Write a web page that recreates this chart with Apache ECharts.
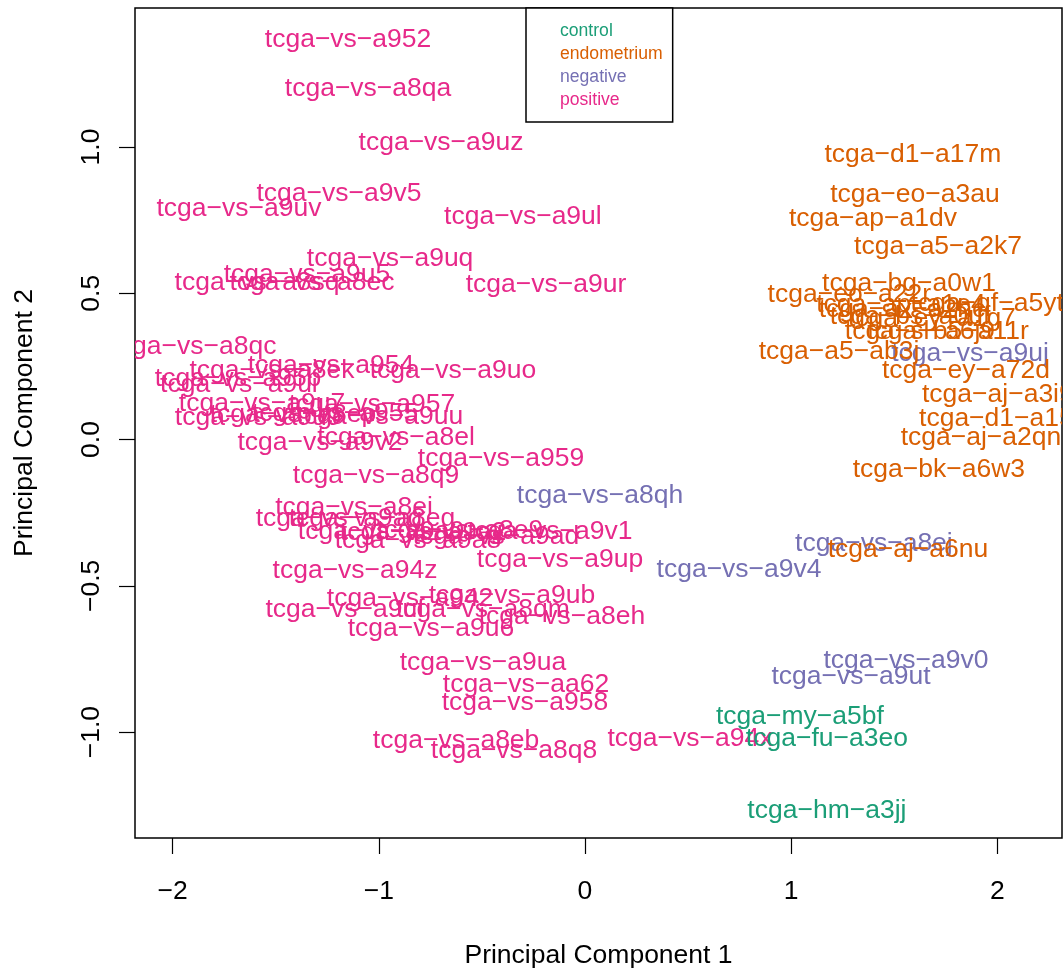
<!DOCTYPE html>
<html><head><meta charset="utf-8">
<script src="https://cdn.jsdelivr.net/npm/echarts@6/dist/echarts.min.js"></script>
<style>html,body{margin:0;padding:0;background:#fff}#c{width:1064px;height:969px}</style>
</head><body><div id="c"></div>
<script>
// ---- data (PC1, PC2 scores per sample) ----
const groupNames = ['control', 'endometrium', 'negative', 'positive'];

const positiveNames = ['tcga-vs-a952','tcga-vs-a8qa','tcga-vs-a9uz','tcga-vs-a9v5','tcga-vs-a9uv','tcga-vs-a9ul','tcga-vs-a9uq','tcga-vs-a9ur','tcga-vs-a9u5','tcga-vs-a8sq','tcga-vs-a8ec','tcga-vs-a8qc','tcga-vs-a9uo','tcga-vs-a954','tcga-vs-a8ek','tcga-vs-a95b','tcga-vs-a9ui','tcga-vs-a9u7','tcga-vs-a957','tcga-vs-a9uu','tcga-vs-a9u9','tcga-vs-a8ep','tcga-vs-a955','tcga-vs-a8el','tcga-vs-a9v2','tcga-vs-a959','tcga-vs-a8q9','tcga-vs-a8ei','tcga-vs-a9ag','tcga-vs-a8eg','tcga-vs-a9a0','tcga-vs-a9a8','tcga-vs-a9a2','tcga-vs-a8e9','tcga-vs-a9ad','tcga-vs-a9v1','tcga-vs-a9up','tcga-vs-a94z','tcga-vs-a9ub','tcga-vs-a942','tcga-vs-a9uf','tcga-vs-a8qm','tcga-vs-a8eh','tcga-vs-a9u6','tcga-vs-a9ua','tcga-vs-aa62','tcga-vs-a958','tcga-vs-a8eb','tcga-vs-a8q8','tcga-vs-a94x'];
const positivePC1 = [-1.149,-1.052,-0.698,-1.193,-1.678,-0.301,-0.945,-0.189,-1.348,-1.590,-1.324,-1.896,-0.640,-1.232,-1.518,-1.682,-1.678,-1.566,-1.033,-0.994,-1.585,-1.416,-1.212,-0.916,-1.285,-0.407,-1.013,-1.120,-1.193,-1.033,-0.989,-0.810,-0.785,-0.606,-0.432,-0.170,-0.121,-1.115,-0.354,-0.848,-1.164,-0.495,-0.112,-0.747,-0.495,-0.286,-0.291,-0.625,-0.344,0.509];
const positivePC2 = [1.366,1.198,1.014,0.839,0.788,0.761,0.617,0.528,0.562,0.535,0.535,0.316,0.237,0.251,0.234,0.207,0.186,0.121,0.118,0.077,0.073,0.084,0.090,0.008,-0.012,-0.067,-0.125,-0.234,-0.272,-0.272,-0.316,-0.347,-0.320,-0.310,-0.333,-0.316,-0.412,-0.450,-0.535,-0.545,-0.580,-0.580,-0.604,-0.648,-0.764,-0.839,-0.898,-1.028,-1.062,-1.024];

const negativeNames = ['tcga-vs-a8qh','tcga-vs-a9v4','tcga-vs-a8ej','tcga-vs-a9uj','tcga-vs-a9v0','tcga-vs-a9ut'];
const negativePC1 = [0.073,0.747,1.401,1.867,1.556,1.290];
const negativePC2 = [-0.193,-0.446,-0.357,0.292,-0.757,-0.812];

const endometriumNames = ['tcga-d1-a17m','tcga-eo-a3au','tcga-ap-a1dv','tcga-a5-a2k7','tcga-bg-a0w1','tcga-eo-a22r','tcga-qf-a5yt','tcga-ap-a1e4','tcga-ax-a2hc','tcga-bs-a0uf','tcga-ey-a1g7','tcga-sl-a6j9','tcga-b5-a11r','tcga-a5-ab3j','tcga-ey-a72d','tcga-aj-a3i9','tcga-d1-a15z','tcga-aj-a2qn','tcga-bk-a6w3','tcga-aj-a6nu'];
const endometriumPC1 = [1.590,1.600,1.396,1.712,1.571,1.282,1.950,1.532,1.537,1.576,1.682,1.624,1.760,1.232,1.847,2.002,2.027,1.920,1.716,1.566];
const endometriumPC2 = [0.972,0.836,0.754,0.658,0.531,0.494,0.463,0.460,0.443,0.419,0.412,0.367,0.367,0.299,0.237,0.152,0.070,0.008,-0.104,-0.375];

const controlNames = ['tcga-my-a5bf','tcga-fu-a3eo','tcga-hm-a3jj'];
const controlPC1 = [1.042,1.173,1.173];
const controlPC2 = [-0.949,-1.024,-1.267];

const xTicks = [-2, -1, 0, 1, 2];
const yTicks = [-1.0, -0.5, 0.0, 0.5, 1.0];

// ---- styling ----
const FONT = '"Liberation Sans", Arial, Helvetica, sans-serif';
const colors = { control: '#1B9E77', endometrium: '#D95F02', negative: '#7570B3', positive: '#E7298A' };
const minus = s => String(s).replace(/-/g, '\u2212');

function labelSeries(name, names, xs, ys) {
  const color = colors[name];
  return {
    type: 'custom', name: name, coordinateSystem: 'cartesian2d', clip: true,
    itemStyle: { color: color },
    encode: { x: 0, y: 1 },
    data: xs.map((x, i) => [x, ys[i]]),
    renderItem: function (params, api) {
      const p = api.coord([api.value(0), api.value(1)]);
      return {
        type: 'text', x: p[0], y: p[1],
        style: { text: minus(names[params.dataIndex]), fill: color, fontSize: 26.5, fontFamily: FONT, align: 'center', verticalAlign: 'middle' }
      };
    }
  };
}

const chart = echarts.init(document.getElementById('c'), null, { renderer: 'canvas' });
chart.setOption({
  animation: false,
  backgroundColor: '#fff',
  grid: { left: 135, right: 2, top: 8, bottom: 131, containLabel: false, outerBoundsMode: 'none', show: true, borderColor: '#000', borderWidth: 1.5, backgroundColor: 'transparent' },
  xAxis: {
    type: 'value', min: -2.182, max: 2.313,
    name: 'Principal Component 1', nameLocation: 'middle', nameGap: 104,
    nameTextStyle: { fontSize: 26.5, fontFamily: FONT, color: '#000' },
    axisLine: { show: false, onZero: false },
    splitLine: { show: false },
    axisTick: { show: true, customValues: xTicks, length: 16, lineStyle: { color: '#000', width: 1.2 } },
    axisLabel: { customValues: xTicks, formatter: v => minus(v), fontSize: 26.5, fontFamily: FONT, color: '#000', margin: 40 }
  },
  yAxis: {
    type: 'value', min: -1.362, max: 1.475,
    name: 'Principal Component 2', nameLocation: 'middle', nameGap: 97, nameRotate: 90,
    nameTextStyle: { fontSize: 26.5, fontFamily: FONT, color: '#000' },
    axisLine: { show: false, onZero: false },
    splitLine: { show: false },
    axisTick: { show: true, customValues: yTicks, length: 16, lineStyle: { color: '#000', width: 1.2 } },
    axisLabel: { customValues: yTicks, rotate: 90, formatter: v => minus(v.toFixed(1)), fontSize: 26.5, fontFamily: FONT, color: '#000', margin: 30 }
  },
  legend: {
    orient: 'vertical', left: 526, top: 8,
    padding: [13, 10, 12, 29], itemWidth: 0, itemHeight: 0, itemGap: 3,
    borderColor: '#000', borderWidth: 1.5, backgroundColor: '#fff',
    selectedMode: false,
    textStyle: { fontSize: 17.6, fontFamily: FONT, lineHeight: 20 },
    data: groupNames.map(g => ({ name: g, icon: 'rect', textStyle: { color: colors[g] } }))
  },
  series: [
    labelSeries('positive', positiveNames, positivePC1, positivePC2),
    labelSeries('negative', negativeNames, negativePC1, negativePC2),
    labelSeries('endometrium', endometriumNames, endometriumPC1, endometriumPC2),
    labelSeries('control', controlNames, controlPC1, controlPC2)
  ]
});
</script>
</body></html>
